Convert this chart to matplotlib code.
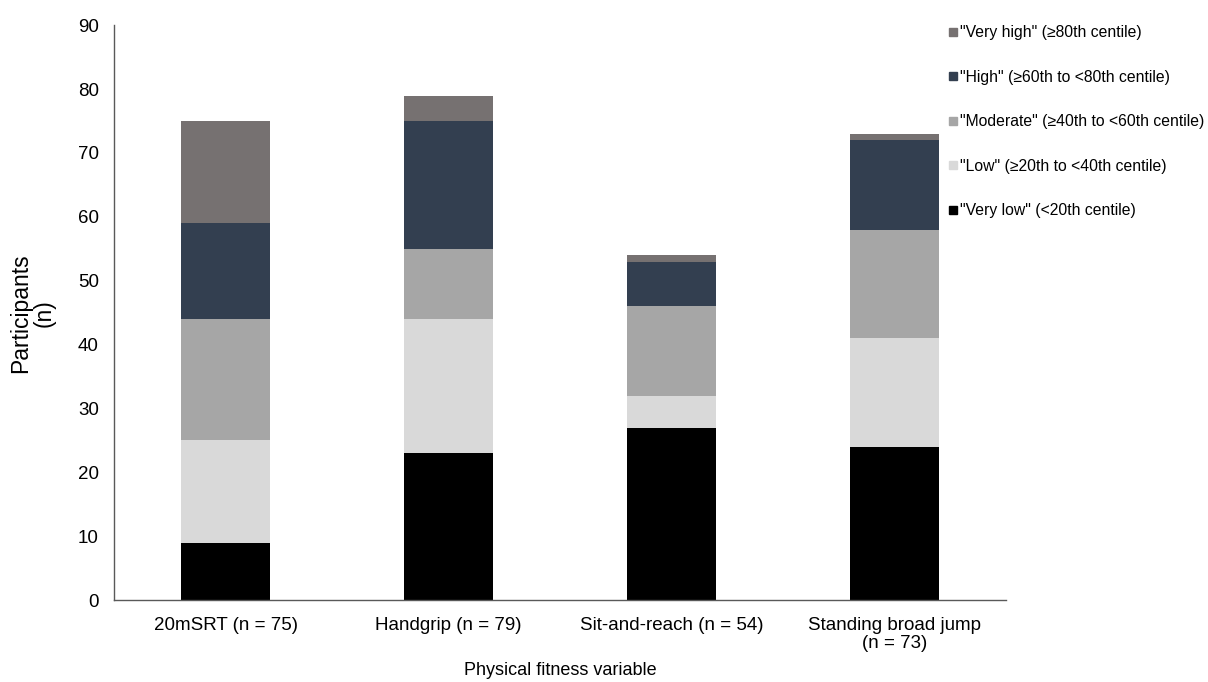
import matplotlib.pyplot as plt
from matplotlib.lines import Line2D
import numpy as np

plt.rcParams['font.family'] = ['Liberation Sans', 'DejaVu Sans']

categories = ['20mSRT (n = 75)', 'Handgrip (n = 79)', 'Sit-and-reach (n = 54)',
              'Standing broad jump\n(n = 73)']
levels = ['"Very low" (<20th centile)', '"Low" (≥20th to <40th centile)',
          '"Moderate" (≥40th to <60th centile)', '"High" (≥60th to <80th centile)',
          '"Very high" (≥80th centile)']
very_low = [9, 23, 27, 24]
low = [16, 21, 5, 17]
moderate = [19, 11, 14, 17]
high = [15, 20, 7, 14]
very_high = [16, 4, 1, 1]
series = [very_low, low, moderate, high, very_high]
colors = ['#000000', '#d9d9d9', '#a6a6a6', '#333f50', '#767171']

fig = plt.figure(figsize=(12.08, 6.82), dpi=100)
ax = fig.add_axes([0.0944, 0.12, 0.7386, 0.843])

x = np.arange(len(categories))
bottom = np.zeros(len(categories))
for vals, col in zip(series, colors):
    ax.bar(x, vals, width=0.4, bottom=bottom, color=col, linewidth=0)
    bottom += np.array(vals)

ax.set_xlim(-0.5, len(categories) - 0.5)
ax.set_ylim(0, 90)
ax.set_yticks(np.arange(0, 91, 10))
ax.set_xticks(x)
ax.set_xticklabels(categories, fontsize=13.5, linespacing=1.1)
ax.tick_params(axis='both', length=0, labelsize=13.5, colors='#000000')
ax.tick_params(axis='y', pad=11)
ax.tick_params(axis='x', pad=12)
for s in ['top', 'right']:
    ax.spines[s].set_visible(False)
for s in ['left', 'bottom']:
    ax.spines[s].set_color('#595959')
    ax.spines[s].set_linewidth(1)

ax.set_ylabel('Participants\n(n)', fontsize=16.5, labelpad=16, linespacing=1.05)
ax.set_xlabel('Physical fitness variable', fontsize=13, labelpad=7)

handles = [Line2D([], [], marker='s', linestyle='none', markersize=6,
                  color=c) for c in colors]
leg = fig.legend(handles[::-1], levels[::-1], loc='upper left',
                 bbox_to_anchor=(0.773, 0.984), frameon=False, fontsize=11.3,
                 handlelength=0.6, handletextpad=0.15, labelspacing=1.88)

fig.savefig('out.png', dpi=100)
